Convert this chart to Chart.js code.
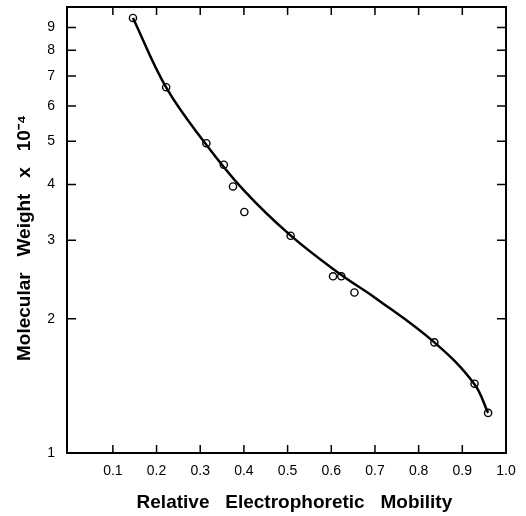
<!DOCTYPE html>
<html>
<head>
<meta charset="utf-8">
<script src="https://cdn.jsdelivr.net/npm/chart.js@4"></script>
<style>
  body { margin: 0; background: #fff; }
  #wrap { width: 526px; height: 516px; }
</style>
</head>
<body>
<div id="wrap"><canvas id="myChart" width="526" height="516"></canvas></div>
<script>
// tick labels
var xTicks = [0.1, 0.2, 0.3, 0.4, 0.5, 0.6, 0.7, 0.8, 0.9, 1.0];
var yTicks = [1, 2, 3, 4, 5, 6, 7, 8, 9];

// measured points (open circles)
var mobility = [0.146, 0.222, 0.314, 0.354, 0.375, 0.401, 0.507, 0.604, 0.623, 0.653, 0.836, 0.928, 0.959];
var weight = [9.45, 6.61, 4.95, 4.43, 3.96, 3.47, 3.07, 2.49, 2.49, 2.29, 1.77, 1.43, 1.23];

// fitted curve
var curveX = [0.146, 0.222, 0.31, 0.40, 0.506, 0.62, 0.70, 0.836, 0.927, 0.959];
var curveY = [9.45, 6.60, 4.97, 3.88, 3.08, 2.52, 2.23, 1.77, 1.43, 1.23];

function pairs(xs, ys) {
  return xs.map(function (v, i) { return { x: v, y: ys[i] }; });
}

// box around the plot + inward tick marks on all four sides
var frame = {
  id: 'frame',
  afterDraw: function (chart) {
    var ctx = chart.ctx;
    var a = chart.chartArea;
    var x = chart.scales.x;
    var y = chart.scales.y;
    ctx.save();
    ctx.strokeStyle = '#000';
    ctx.lineWidth = 2;
    ctx.strokeRect(a.left, a.top, a.right - a.left, a.bottom - a.top);
    ctx.lineWidth = 1.5;
    ctx.beginPath();
    xTicks.forEach(function (v) {
      if (v >= 1) return;
      var px = x.getPixelForValue(v);
      ctx.moveTo(px, a.bottom); ctx.lineTo(px, a.bottom - 8);
      ctx.moveTo(px, a.top); ctx.lineTo(px, a.top + 8);
    });
    yTicks.forEach(function (v) {
      if (v <= 1) return;
      var py = y.getPixelForValue(v);
      ctx.moveTo(a.left, py); ctx.lineTo(a.left + 9, py);
      ctx.moveTo(a.right, py); ctx.lineTo(a.right - 9, py);
    });
    ctx.stroke();
    ctx.restore();
  }
};

var ctx = document.getElementById('myChart').getContext('2d');
var chart = new Chart(ctx, {
  type: 'scatter',
  data: {
    datasets: [{
      label: 'curve',
      data: pairs(curveX, curveY),
      showLine: true,
      borderColor: '#000',
      borderWidth: 2.5,
      pointRadius: 0,
      tension: 0.4
    }, {
      label: 'points',
      data: pairs(mobility, weight),
      pointStyle: 'circle',
      pointRadius: 3.6,
      pointBackgroundColor: '#fff',
      pointBorderColor: '#000',
      pointBorderWidth: 1.4
    }]
  },
  options: {
    responsive: false,
    animation: false,
    layout: { padding: { left: 0, top: 7, right: 20, bottom: 0 } },
    plugins: { legend: { display: false }, tooltip: { enabled: false } },
    scales: {
      x: {
        type: 'linear',
        min: -0.005,
        max: 1.0,
        afterBuildTicks: function (s) { s.ticks = xTicks.map(function (v) { return { value: v }; }); },
        afterFit: function (s) { s.height = 63; s.paddingLeft = 0; s.paddingRight = 0; },
        grid: { display: false, drawTicks: false },
        border: { display: false },
        ticks: {
          color: '#000',
          font: { family: 'Liberation Sans', size: 14 },
          padding: 10,
          maxRotation: 0,
          callback: function (v) { return v.toFixed(1); }
        },
        title: {
          display: true,
          text: '   Relative   Electrophoretic   Mobility',
          color: '#000',
          font: { family: 'Liberation Sans', size: 19, weight: 'bold' },
          padding: { top: 0, bottom: 2 }
        }
      },
      y: {
        type: 'logarithmic',
        min: 1,
        max: 10,
        afterBuildTicks: function (s) { s.ticks = yTicks.map(function (v) { return { value: v }; }); },
        afterFit: function (s) { s.width = 67; s.paddingTop = 0; s.paddingBottom = 0; },
        grid: { display: false, drawTicks: false },
        border: { display: false },
        ticks: {
          color: '#000',
          font: { family: 'Liberation Sans', size: 14 },
          padding: 12,
          callback: function (v) { return String(v); }
        },
        title: {
          display: true,
          text: 'Molecular   Weight   x   10\u207B\u2074   ',
          color: '#000',
          font: { family: 'Liberation Sans', size: 19, weight: 'bold' },
          padding: { top: 13, bottom: 0 }
        }
      }
    }
  },
  plugins: [frame]
});
</script>
</body>
</html>
